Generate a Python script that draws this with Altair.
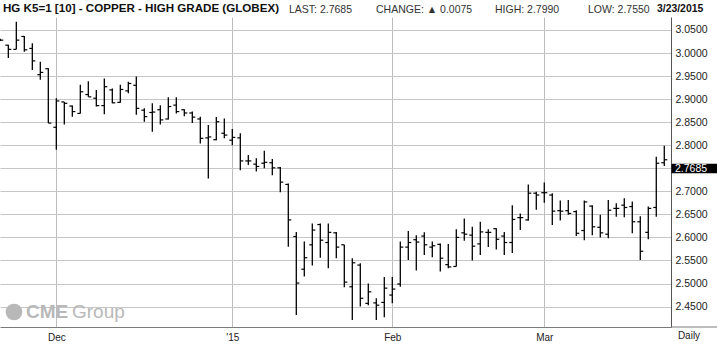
import altair as alt
import pandas as pd

symbol_title = "HG K5=1 [10] - COPPER - HIGH GRADE (GLOBEX)"

dates = [
    "2014-11-19", "2014-11-20", "2014-11-21", "2014-11-24", "2014-11-25", "2014-11-26", "2014-11-28",
    "2014-12-01", "2014-12-02", "2014-12-03", "2014-12-04", "2014-12-05",
    "2014-12-08", "2014-12-09", "2014-12-10", "2014-12-11", "2014-12-12",
    "2014-12-15", "2014-12-16", "2014-12-17", "2014-12-18", "2014-12-19",
    "2014-12-22", "2014-12-23", "2014-12-24", "2014-12-26",
    "2014-12-29", "2014-12-30", "2014-12-31",
    "2015-01-02", "2015-01-05", "2015-01-06", "2015-01-07", "2015-01-08", "2015-01-09",
    "2015-01-12", "2015-01-13", "2015-01-14", "2015-01-15", "2015-01-16",
    "2015-01-20", "2015-01-21", "2015-01-22", "2015-01-23",
    "2015-01-26", "2015-01-27", "2015-01-28", "2015-01-29", "2015-01-30",
    "2015-02-02", "2015-02-03", "2015-02-04", "2015-02-05", "2015-02-06",
    "2015-02-09", "2015-02-10", "2015-02-11", "2015-02-12", "2015-02-13",
    "2015-02-17", "2015-02-18", "2015-02-19", "2015-02-20",
    "2015-02-23", "2015-02-24", "2015-02-25", "2015-02-26", "2015-02-27",
    "2015-03-02", "2015-03-03", "2015-03-04", "2015-03-05", "2015-03-06",
    "2015-03-09", "2015-03-10", "2015-03-11", "2015-03-12", "2015-03-13",
    "2015-03-16", "2015-03-17", "2015-03-18", "2015-03-19", "2015-03-20",
    "2015-03-23",
]

opens = [
    3.028, 3.017, 3.008, 3.036, 3.010, 2.953, 2.966,
    2.839, 2.894, 2.885, 2.869, 2.910, 2.902, 2.886, 2.920, 2.893, 2.918,
    2.930, 2.876, 2.871, 2.877, 2.857, 2.887, 2.877, 2.870, 2.857, 2.816, 2.812, 2.826,
    2.811, 2.816, 2.766, 2.759, 2.761, 2.762, 2.751, 2.715, 2.602, 2.531, 2.584,
    2.628, 2.589, 2.610, 2.584, 2.493, 2.540, 2.457, 2.458, 2.459,
    2.475, 2.499, 2.579, 2.595, 2.603, 2.579, 2.585, 2.541, 2.537, 2.610,
    2.605, 2.586, 2.611, 2.619, 2.603, 2.589, 2.643, 2.638, 2.696,
    2.697, 2.692, 2.658, 2.658, 2.656, 2.615, 2.668, 2.622, 2.607, 2.663,
    2.670, 2.667, 2.634, 2.611, 2.665, 2.762,
]
highs = [
    3.031, 3.018, 3.068, 3.037, 3.021, 2.981, 2.967,
    2.902, 2.894, 2.886, 2.931, 2.939, 2.920, 2.945, 2.923, 2.931, 2.938,
    2.949, 2.880, 2.891, 2.887, 2.904, 2.904, 2.878, 2.873, 2.862, 2.844, 2.861, 2.858,
    2.835, 2.826, 2.779, 2.772, 2.788, 2.770, 2.753, 2.717, 2.612, 2.591, 2.630,
    2.630, 2.630, 2.612, 2.584, 2.555, 2.544, 2.500, 2.468, 2.514,
    2.514, 2.591, 2.614, 2.605, 2.611, 2.591, 2.587, 2.586, 2.618, 2.641,
    2.623, 2.634, 2.618, 2.620, 2.612, 2.670, 2.652, 2.715, 2.699,
    2.719, 2.696, 2.680, 2.681, 2.659, 2.680, 2.670, 2.649, 2.681, 2.674,
    2.685, 2.678, 2.646, 2.667, 2.775, 2.799,
]
lows = [
    3.026, 2.989, 3.008, 3.003, 2.963, 2.942, 2.848,
    2.790, 2.845, 2.862, 2.869, 2.905, 2.884, 2.867, 2.891, 2.892, 2.913,
    2.866, 2.851, 2.829, 2.845, 2.856, 2.869, 2.863, 2.848, 2.804, 2.728, 2.811, 2.815,
    2.800, 2.746, 2.757, 2.743, 2.750, 2.735, 2.698, 2.580, 2.432, 2.515, 2.539,
    2.556, 2.533, 2.555, 2.492, 2.421, 2.450, 2.453, 2.421, 2.427,
    2.457, 2.493, 2.551, 2.528, 2.562, 2.557, 2.526, 2.533, 2.537, 2.593,
    2.550, 2.562, 2.579, 2.574, 2.562, 2.566, 2.616, 2.636, 2.660,
    2.675, 2.627, 2.637, 2.649, 2.603, 2.594, 2.605, 2.600, 2.598, 2.645,
    2.644, 2.609, 2.551, 2.596, 2.645, 2.755,
]
closes = [
    3.028, 3.008, 3.028, 3.007, 2.983, 2.958, 2.848,
    2.896, 2.891, 2.873, 2.916, 2.905, 2.886, 2.927, 2.892, 2.921, 2.934,
    2.880, 2.862, 2.872, 2.855, 2.884, 2.873, 2.870, 2.861, 2.815, 2.818, 2.851, 2.822,
    2.817, 2.766, 2.766, 2.754, 2.763, 2.751, 2.720, 2.638, 2.501, 2.556, 2.616,
    2.594, 2.611, 2.579, 2.503, 2.545, 2.468, 2.482, 2.453, 2.490,
    2.488, 2.579, 2.589, 2.590, 2.584, 2.582, 2.555, 2.536, 2.600, 2.607,
    2.581, 2.612, 2.611, 2.596, 2.589, 2.639, 2.643, 2.696, 2.692,
    2.697, 2.657, 2.657, 2.652, 2.609, 2.677, 2.623, 2.610, 2.659, 2.663,
    2.665, 2.634, 2.570, 2.663, 2.761, 2.7685,
]

month_labels = ["Dec", "'15", "Feb", "Mar"]
price_ticks = [2.45, 2.50, 2.55, 2.60, 2.65, 2.70, 2.75, 2.80, 2.85, 2.90, 2.95, 3.00, 3.05]
period_label = "Daily"
logo_words = ["CME", "Group"]

n = len(dates)
df = pd.DataFrame({
    "i": list(range(n)), "date": dates,
    "open": opens, "high": highs, "low": lows, "close": closes,
})
month_starts = [k for k in range(1, n) if dates[k][:7] != dates[k - 1][:7]]

W, H = 671, 310
TOP = 17
FONT = "Liberation Sans, Arial, sans-serif"

xs = alt.Scale(domain=[-0.04, n - 0.16], nice=False, zero=False)
ys = alt.Scale(domain=[2.4057, 3.0782], nice=False, zero=False)

label_expr = " : ".join(
    f'datum.value == {m} ? "{l}"' for m, l in zip(month_starts, month_labels)
) + ' : ""'

x_axis = alt.Axis(
    values=month_starts, labelExpr=label_expr, grid=True, gridColor="#bdbdbd",
    gridWidth=1, ticks=False, domain=True, domainColor="#7a7a7a", domainWidth=1,
    labelFont=FONT, labelFontSize=10, labelColor="#222", labelPadding=5,
    title=None, zindex=0,
)
y_axis = alt.Axis(
    orient="right", values=price_ticks, format=".4f", grid=True, gridColor="#c6c6c6",
    gridWidth=1, ticks=False, domain=True, domainColor="#555", domainWidth=1,
    labelFont=FONT, labelFontSize=10.5, labelColor="#222", labelPadding=4,
    labelAlign="left", title=None, zindex=0,
)


def X(field):
    return alt.X(field, scale=xs, axis=x_axis)


def Y(field):
    return alt.Y(field, scale=ys, axis=y_axis)


BAR = "#000000"
bars = alt.Chart(df).mark_rule(color=BAR, strokeWidth=1.3).encode(
    x=X("i:Q"), y=Y("low:Q"), y2="high:Q",
)
open_ticks = alt.Chart(df).mark_rule(color=BAR, strokeWidth=1.2, xOffset=-3, x2Offset=0).encode(
    x=X("i:Q"), x2="i:Q", y=Y("open:Q"),
)
close_ticks = alt.Chart(df).mark_rule(color=BAR, strokeWidth=1.2, xOffset=0, x2Offset=3).encode(
    x=X("i:Q"), x2="i:Q", y=Y("close:Q"),
)

last_df = pd.DataFrame({"v": [closes[-1]], "label": [f"{closes[-1]:.4f}"]})
box = alt.Chart(last_df).mark_rect(color="#000", yOffset=4, y2Offset=13.5).encode(
    x=alt.value(671.5), x2=alt.value(717), y=Y("v:Q"), y2="v:Q",
)
box_text = alt.Chart(last_df).mark_text(
    color="#ffffff", align="left", baseline="middle", font=FONT, fontSize=10.5, yOffset=8.8,
).encode(x=alt.value(675), y=Y("v:Q"), text="label:N")

axis_ext = alt.Chart(pd.DataFrame({"t": [0]})).mark_rule(color="#7a7a7a", strokeWidth=1).encode(
    x=alt.value(W), x2=alt.value(717), y=alt.value(H),
)


def text_layer(txt, x, y, **kw):
    return alt.Chart(pd.DataFrame({"t": [txt]})).mark_text(
        align=kw.pop("align", "left"), baseline=kw.pop("baseline", "middle"), **kw
    ).encode(x=alt.value(x), y=alt.value(y), text="t:N")


chg = closes[-1] - closes[-2]
arrow = "▲" if chg >= 0 else "▼"
d = dates[-1].split("-")
date_str = f"{int(d[1])}/{int(d[2])}/{d[0]}"

hy = 9 - TOP
header = [
    text_layer(symbol_title, 3, hy, font=FONT, fontSize=11.6, fontWeight="bold", color="#111"),
    text_layer(f"LAST: {closes[-1]:.4f}", 289, hy + 1, font=FONT, fontSize=10.5, color="#333"),
    text_layer(f"CHANGE: {arrow} {abs(chg):.4f}", 376, hy + 1, font=FONT, fontSize=10.5, color="#333"),
    text_layer(f"HIGH: {highs[-1]:.4f}", 495, hy + 1, font=FONT, fontSize=10.5, color="#333"),
    text_layer(f"LOW: {lows[-1]:.4f}", 588, hy + 1, font=FONT, fontSize=10.5, color="#333"),
    text_layer(date_str, 657, hy, font=FONT, fontSize=10.4, fontWeight="bold", color="#111"),
]

daily = text_layer(period_label, 689, 336 - TOP, align="center", font=FONT, fontSize=10, color="#222")

logo_color = "#b8b8b8"
globe = alt.Chart(pd.DataFrame({"t": [0]})).mark_point(
    shape="circle", filled=True, size=280, color=logo_color, opacity=1,
).encode(x=alt.value(14), y=alt.value(312 - TOP))
logo = [
    globe,
    text_layer(logo_words[0], 26, 312 - TOP, font=FONT, fontSize=19, fontWeight="bold", color=logo_color),
    text_layer(logo_words[1], 72, 312 - TOP, font=FONT, fontSize=19, color=logo_color),
]

chart = alt.layer(
    bars, open_ticks, close_ticks, axis_ext, *logo, box, box_text, *header, daily,
).properties(
    width=W, height=H,
    autosize=alt.AutoSizeParams(type="none"),
    padding={"left": 0, "top": TOP, "right": 717 - W, "bottom": 344 - TOP - H},
    background="#ffffff",
).configure_view(stroke=None)

chart.save("out.html", embed_options={"renderer": "svg", "actions": False})
